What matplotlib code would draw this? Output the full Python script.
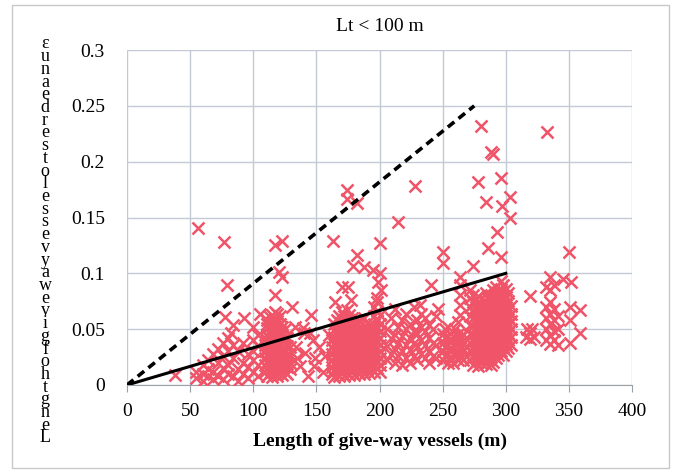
import matplotlib.pyplot as plt
from matplotlib.patches import Rectangle

plt.rcParams['font.family'] = ['Liberation Serif', 'DejaVu Serif']

TITLE = "Lt < 100 m"
X_LABEL = "Length of give-way vessels (m)"
# vertical label, glyphs stacked from top to bottom
Y_LABEL_GLYPHS = "ɛunaedrestolessevyawevigfohtgneL"
MARK_COLOR = '#ef5468'
GRID_COLOR = '#c3cad6'

x_ticks = [0, 50, 100, 150, 200, 250, 300, 350, 400]
y_ticks = [0, 0.05, 0.1, 0.15, 0.2, 0.25, 0.3]
y_tick_labels = ["0", "0.05", "0.1", "0.15", "0.2", "0.25", "0.3"]

# reference lines
upper_x = [0, 275]
upper_y = [0, 0.25]
lower_x = [0, 300]
lower_y = [0, 0.1]

# isolated encounters (length, ratio)
scattered = [
    (38, 0.009), (56, 0.141), (77, 0.128), (79, 0.09), (78, 0.061), (84, 0.054),
    (93, 0.06), (100, 0.052), (105, 0.064), (111, 0.055), (82, 0.047), (119, 0.064),
    (133, 0.052), (140, 0.047), (146, 0.063), (131, 0.07), (117, 0.081), (120, 0.101),
    (123, 0.097), (117, 0.125), (123, 0.129), (163, 0.129), (174, 0.175), (174, 0.167),
    (182, 0.163), (182, 0.116), (179, 0.107), (188, 0.106), (195, 0.103), (170, 0.088),
    (175, 0.088), (165, 0.074), (177, 0.076), (200, 0.127), (200, 0.1), (199, 0.092),
    (201, 0.085), (198, 0.078), (215, 0.146), (228, 0.178), (250, 0.119), (250, 0.109),
    (241, 0.09), (274, 0.107), (286, 0.123), (296, 0.115), (293, 0.137), (303, 0.15),
    (297, 0.16), (284, 0.164), (303, 0.168), (278, 0.182), (296, 0.185), (288, 0.209),
    (290, 0.207), (280, 0.232), (333, 0.227), (350, 0.119), (319, 0.08), (335, 0.097),
    (345, 0.095), (352, 0.092), (351, 0.07), (359, 0.067), (351, 0.058), (359, 0.047),
    (351, 0.038), (264, 0.097), (264, 0.09), (264, 0.081), (264, 0.072), (264, 0.063),
    (232, 0.072), (246, 0.068), (134, 0.034), (137, 0.017), (139, 0.051), (141, 0.029),
    (143, 0.008), (145, 0.047), (147, 0.04), (148, 0.017), (149, 0.024), (152, 0.034),
    (155, 0.012), (157, 0.026), (135, 0.024), (160, 0.045),
    (316, 0.043), (319, 0.047), (322, 0.043), (317, 0.05), (321, 0.05), (319, 0.041),
]

# grouped encounters: length -> ratios
small_ships = {
    55: [0.006, 0.012],
    60: [0.01, 0.018, 0.004],
    64: [0.022, 0.008, 0.014],
    68: [0.028, 0.012, 0.005],
    72: [0.02, 0.032, 0.008],
    76: [0.015, 0.026, 0.038, 0.005],
    80: [0.03, 0.042, 0.018, 0.01],
    84: [0.024, 0.036, 0.008],
    88: [0.014, 0.03, 0.004],
    92: [0.02, 0.038, 0.01],
    96: [0.028, 0.006, 0.016],
    100: [0.012, 0.03, 0.04, 0.022],
    104: [0.008, 0.035, 0.018, 0.045],
}
ships_110_130 = {
    109: [0.012, 0.018, 0.024, 0.03, 0.036, 0.042],
    111: [0.008, 0.015, 0.021, 0.027, 0.033, 0.039, 0.045, 0.051, 0.058],
    113: [0.011, 0.017, 0.023, 0.029, 0.035, 0.041, 0.048, 0.054, 0.061],
    115: [0.007, 0.014, 0.02, 0.026, 0.032, 0.038, 0.044, 0.05, 0.056, 0.063],
    117: [0.01, 0.016, 0.022, 0.028, 0.034, 0.04, 0.047, 0.053, 0.059, 0.065],
    119: [0.008, 0.014, 0.02, 0.026, 0.032, 0.038, 0.044, 0.05, 0.057],
    121: [0.011, 0.017, 0.023, 0.029, 0.035, 0.041, 0.048, 0.055, 0.062],
    123: [0.009, 0.015, 0.021, 0.027, 0.033, 0.039, 0.045, 0.052],
    125: [0.012, 0.018, 0.024, 0.03, 0.036, 0.043, 0.05],
    127: [0.01, 0.016, 0.022, 0.028, 0.035, 0.042],
    129: [0.014, 0.02, 0.027, 0.034],
}
ships_160_200 = {
    162: [0.01, 0.016, 0.022, 0.028, 0.034, 0.04],
    164: [0.007, 0.013, 0.019, 0.025, 0.031, 0.037, 0.043, 0.049, 0.055],
    166: [0.01, 0.016, 0.022, 0.028, 0.034, 0.04, 0.046, 0.052, 0.058],
    168: [0.008, 0.014, 0.02, 0.026, 0.032, 0.038, 0.044, 0.05, 0.056, 0.062],
    170: [0.011, 0.017, 0.023, 0.029, 0.035, 0.041, 0.047, 0.053, 0.059, 0.065],
    172: [0.008, 0.014, 0.02, 0.026, 0.032, 0.038, 0.044, 0.05, 0.056, 0.062],
    174: [0.011, 0.017, 0.023, 0.029, 0.035, 0.041, 0.047, 0.053, 0.06, 0.067],
    176: [0.009, 0.015, 0.021, 0.027, 0.033, 0.039, 0.045, 0.051, 0.057, 0.063],
    178: [0.012, 0.018, 0.024, 0.03, 0.036, 0.042, 0.048, 0.054, 0.06],
    180: [0.009, 0.015, 0.021, 0.027, 0.033, 0.039, 0.045, 0.051, 0.057],
    182: [0.012, 0.018, 0.024, 0.03, 0.036, 0.042, 0.048, 0.054],
    184: [0.01, 0.016, 0.022, 0.028, 0.034, 0.04, 0.046, 0.052, 0.058],
    186: [0.013, 0.019, 0.025, 0.031, 0.037, 0.043, 0.049],
    188: [0.01, 0.016, 0.022, 0.028, 0.034, 0.04, 0.046, 0.053, 0.06],
    190: [0.013, 0.019, 0.025, 0.031, 0.037, 0.043, 0.049],
    192: [0.011, 0.017, 0.023, 0.029, 0.035, 0.041, 0.047, 0.054],
    194: [0.014, 0.02, 0.026, 0.032, 0.038, 0.044, 0.05],
    196: [0.012, 0.018, 0.024, 0.03, 0.036, 0.042, 0.048, 0.055, 0.062, 0.07],
    198: [0.015, 0.021, 0.027, 0.033, 0.039, 0.045, 0.051, 0.058, 0.066, 0.074],
    200: [0.012, 0.018, 0.024, 0.03, 0.036, 0.042, 0.048, 0.055, 0.063],
}
ships_205_270 = {
    206: [0.022, 0.035, 0.05],
    209: [0.028, 0.042, 0.06],
    212: [0.02, 0.032, 0.045, 0.068],
    215: [0.026, 0.038, 0.052],
    218: [0.018, 0.03, 0.044, 0.058],
    221: [0.024, 0.036, 0.05, 0.064],
    224: [0.02, 0.031, 0.042, 0.055],
    227: [0.026, 0.038, 0.048, 0.07],
    230: [0.022, 0.034, 0.046, 0.058],
    233: [0.028, 0.04, 0.052, 0.064],
    236: [0.024, 0.036, 0.048, 0.06],
    239: [0.02, 0.03, 0.042, 0.054],
    242: [0.026, 0.038, 0.05],
    245: [0.024, 0.036, 0.062],
    250: [0.022, 0.03, 0.038, 0.046],
    252: [0.026, 0.034, 0.042, 0.05],
    254: [0.02, 0.028, 0.036, 0.044, 0.052],
    256: [0.024, 0.032, 0.04],
    258: [0.02, 0.028, 0.036, 0.044],
    260: [0.026, 0.034, 0.042, 0.05],
    262: [0.022, 0.03, 0.038, 0.046, 0.056],
    264: [0.026, 0.034, 0.042],
    266: [0.022, 0.03, 0.038, 0.046],
}
ships_270_310 = {
    272: [0.022, 0.03, 0.038, 0.046, 0.054, 0.062, 0.07, 0.078, 0.085],
    274: [0.018, 0.025, 0.032, 0.039, 0.046, 0.053, 0.06, 0.067, 0.074, 0.081],
    276: [0.021, 0.028, 0.035, 0.042, 0.049, 0.056, 0.063, 0.07, 0.077],
    278: [0.017, 0.024, 0.031, 0.038, 0.045, 0.052, 0.059, 0.066, 0.073, 0.08],
    280: [0.02, 0.027, 0.034, 0.041, 0.048, 0.055, 0.062, 0.069],
    282: [0.023, 0.03, 0.037, 0.044, 0.051, 0.058, 0.065, 0.072],
    284: [0.019, 0.026, 0.033, 0.04, 0.047, 0.054, 0.061, 0.068, 0.075, 0.082],
    286: [0.022, 0.029, 0.036, 0.043, 0.05, 0.057, 0.064, 0.071, 0.078],
    288: [0.018, 0.025, 0.032, 0.039, 0.046, 0.053, 0.06, 0.067, 0.074, 0.081],
    290: [0.021, 0.028, 0.035, 0.042, 0.049, 0.056, 0.063, 0.07, 0.077, 0.085],
    292: [0.024, 0.031, 0.038, 0.045, 0.052, 0.059, 0.066, 0.073, 0.08, 0.088],
    294: [0.027, 0.034, 0.041, 0.048, 0.055, 0.062, 0.069, 0.076, 0.083],
    296: [0.03, 0.037, 0.044, 0.051, 0.058, 0.065, 0.072, 0.079, 0.086, 0.093],
    298: [0.027, 0.034, 0.041, 0.048, 0.055, 0.062, 0.069, 0.076, 0.083, 0.09],
    300: [0.03, 0.037, 0.044, 0.051, 0.058, 0.065, 0.072, 0.079, 0.086],
    302: [0.033, 0.04, 0.047, 0.054, 0.061, 0.068, 0.075, 0.082],
    304: [0.036, 0.043, 0.05, 0.057, 0.064, 0.071],
}
ships_330_345 = {
    332: [0.088, 0.07, 0.06, 0.05, 0.04],
    335: [0.085, 0.074, 0.064, 0.055, 0.045, 0.037],
    338: [0.09, 0.068, 0.058, 0.048, 0.04],
    341: [0.062, 0.05, 0.036],
}

xs = [p[0] for p in scattered]
ys = [p[1] for p in scattered]
for group in (small_ships, ships_110_130, ships_160_200, ships_205_270,
              ships_270_310, ships_330_345):
    for length, ratios in group.items():
        for r in ratios:
            xs.append(length)
            ys.append(r)

fig = plt.figure(figsize=(6.78, 4.71), dpi=100)
ax = fig.add_axes([0.1873, 0.1826, 0.745, 0.7112])

ax.plot(xs, ys, linestyle='none', marker='x', markersize=8, markeredgewidth=1.8,
        color=MARK_COLOR, zorder=3)
ax.plot(upper_x, upper_y, color='black', lw=2.6, linestyle=(0, (2.3, 1.5)), zorder=4)
ax.plot(lower_x, lower_y, color='black', lw=2.2, zorder=4)

ax.set_xlim(0, 400)
ax.set_ylim(0, 0.3)
ax.set_xticks(x_ticks)
ax.set_yticks(y_ticks)
ax.set_yticklabels(y_tick_labels)
ax.grid(True, color=GRID_COLOR, lw=1.0, zorder=0)
ax.set_axisbelow(True)
for side in ('top', 'right', 'left'):
    ax.spines[side].set_visible(False)
ax.spines['bottom'].set_color('#9aa0a8')
ax.tick_params(axis='x', direction='out', length=5, color='#9aa0a8',
               labelsize=14, pad=8)
ax.tick_params(axis='y', length=0, labelsize=14, pad=16)

ax.set_xlabel(X_LABEL, fontsize=14, fontweight='bold', labelpad=9)
ax.set_title(TITLE, fontsize=14, pad=14)

# each glyph of the stacked label placed on its own
n = len(Y_LABEL_GLYPHS)
for i, ch in enumerate(Y_LABEL_GLYPHS):
    ypix = 44 + i * (394 / (n - 1))
    fig.text(45 / 678, 1 - ypix / 471, ch, fontsize=13, ha='center', va='center')

fig.patches.append(Rectangle((12 / 678, 3 / 471), 657 / 678, 463 / 471,
                             transform=fig.transFigure, fill=False,
                             edgecolor='#c8c8c8', lw=1.0))

fig.savefig('out.png', dpi=100)
